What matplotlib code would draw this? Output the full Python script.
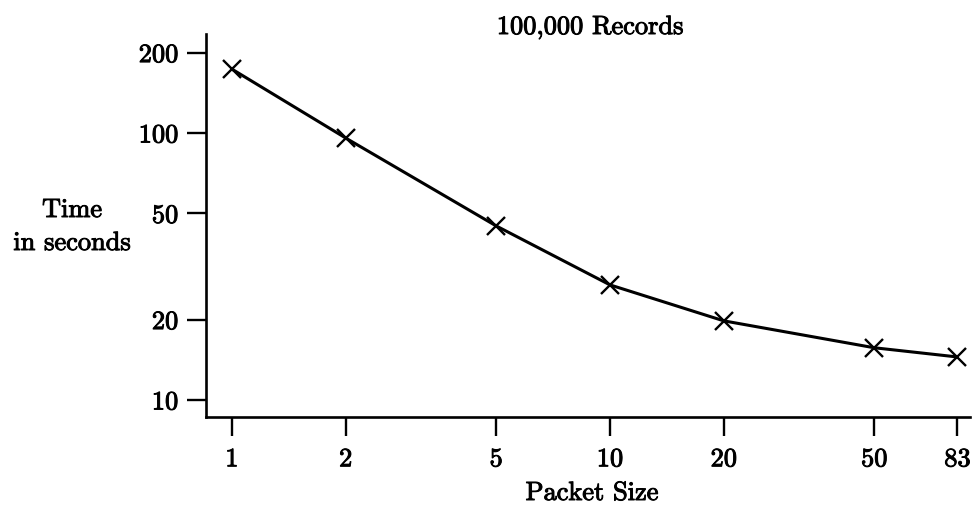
import matplotlib
matplotlib.use("Agg")
import matplotlib.pyplot as plt
import matplotlib.patheffects as pe
from matplotlib.ticker import FixedLocator, NullLocator

# data
packet_size = [1, 2, 5, 10, 20, 50, 83]
time_sec = [173.6, 95.8, 44.9, 27.0, 19.8, 15.7, 14.5]

x_ticks = [1, 2, 5, 10, 20, 50, 83]
x_tick_labels = ["1", "2", "5", "10", "20", "50", "83"]
y_ticks = [10, 20, 50, 100, 200]
y_tick_labels = ["10", "20", "50", "100", "200"]

plt.rcParams['font.family'] = ['cmr10', 'DejaVu Serif']
plt.rcParams['axes.formatter.use_mathtext'] = True
plt.rcParams['font.size'] = 19

# scanned print looks heavy, thicken the glyphs a bit
heavy = [pe.withStroke(linewidth=0.7, foreground='black')]

W, H = 972, 506
fig = plt.figure(figsize=(W / 100, H / 100), dpi=100)
ax = fig.add_axes([206 / W, 1 - 418 / H, (970 - 206) / W, (418 - 35) / H])

ax.plot(packet_size, time_sec, color='black', linewidth=2.2,
        marker='x', markersize=13, markeredgewidth=1.7)

ax.set_xscale('log')
ax.set_yscale('log')
ax.set_xlim(0.854, 89.6)
ax.set_ylim(8.64, 235)

ax.xaxis.set_major_locator(FixedLocator(x_ticks))
ax.xaxis.set_minor_locator(NullLocator())
ax.set_xticklabels(x_tick_labels)
ax.yaxis.set_major_locator(FixedLocator(y_ticks))
ax.yaxis.set_minor_locator(NullLocator())
ax.set_yticklabels(y_tick_labels)

for s in ['top', 'right']:
    ax.spines[s].set_visible(False)
for s in ['left', 'bottom']:
    ax.spines[s].set_linewidth(1.9)

ax.tick_params(axis='x', direction='out', length=14, width=1.7, pad=8, labelsize=19)
ax.tick_params(axis='y', direction='out', length=14, width=1.7, pad=6, labelsize=19)
for lab in ax.get_xticklabels() + ax.get_yticklabels():
    lab.set_path_effects(heavy)

fig.text(590 / W, 1 - 35 / H, "100,000 Records", ha='center', va='baseline', path_effects=heavy)
fig.text(72 / W, 1 - 218 / H, "Time", ha='center', va='baseline', path_effects=heavy)
fig.text(72 / W, 1 - 251 / H, "in seconds", ha='center', va='baseline', path_effects=heavy)
fig.text(592 / W, 1 - 501 / H, "Packet Size", ha='center', va='baseline', path_effects=heavy)

fig.savefig("out.png", dpi=100)
